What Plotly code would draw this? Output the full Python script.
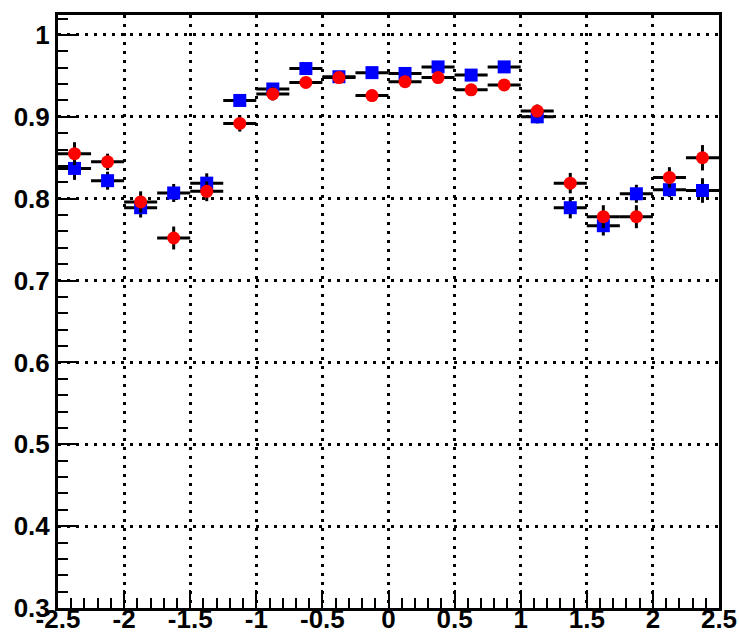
import plotly.graph_objects as go

# bin centres (eta), bin half-width
x_centers = [-2.375, -2.125, -1.875, -1.625, -1.375, -1.125, -0.875, -0.625, -0.375, -0.125,
             0.125, 0.375, 0.625, 0.875, 1.125, 1.375, 1.625, 1.875, 2.125, 2.375]
x_halfwidth = [0.125] * 20

blue_vals = [0.837, 0.822, 0.789, 0.807, 0.819, 0.920, 0.934, 0.959, 0.949, 0.954,
             0.953, 0.961, 0.951, 0.961, 0.900, 0.789, 0.767, 0.806, 0.811, 0.810]
blue_errs = [0.014, 0.011, 0.012, 0.011, 0.012, 0.007, 0.007, 0.006, 0.006, 0.006,
             0.006, 0.006, 0.006, 0.006, 0.008, 0.013, 0.012, 0.011, 0.009, 0.015]

red_vals = [0.855, 0.845, 0.796, 0.752, 0.809, 0.892, 0.928, 0.942, 0.948, 0.926,
            0.943, 0.948, 0.933, 0.939, 0.907, 0.819, 0.778, 0.778, 0.826, 0.850]
red_errs = [0.014, 0.010, 0.013, 0.014, 0.012, 0.010, 0.008, 0.006, 0.006, 0.007,
            0.006, 0.006, 0.006, 0.006, 0.008, 0.0125, 0.014, 0.014, 0.0125, 0.0155]

# tick labels
x_tickvals = [-2.5, -2.0, -1.5, -1.0, -0.5, 0.0, 0.5, 1.0, 1.5, 2.0, 2.5]
x_ticktext = ["-2.5", "-2", "-1.5", "-1", "-0.5", "0", "0.5", "1", "1.5", "2", "2.5"]
y_tickvals = [0.3, 0.4, 0.5, 0.6, 0.7, 0.8, 0.9, 1.0]
y_ticktext = ["0.3", "0.4", "0.5", "0.6", "0.7", "0.8", "0.9", "1"]

font_family = "Liberation Sans, Arial, Helvetica, sans-serif"

fig = go.Figure()


def add_series(vals, errs, color, symbol):
    fig.add_trace(go.Scatter(
        x=x_centers, y=vals, mode="markers",
        marker=dict(color=color, symbol=symbol, size=13, line=dict(width=0)),
        error_x=dict(type="data", array=x_halfwidth, color="black", thickness=3, width=0),
        error_y=dict(type="data", array=errs, color="black", thickness=3, width=0),
        showlegend=False, cliponaxis=False,
    ))


add_series(blue_vals, blue_errs, "#0000ff", "square")
add_series(red_vals, red_errs, "#ff0000", "circle")

axis_common = dict(
    showgrid=True, gridcolor="black", gridwidth=3, griddash="3px,6px",
    ticks="inside", tickcolor="black", tickwidth=2,
    showline=True, linecolor="black", linewidth=3, mirror=True,
    zeroline=False, automargin=False,
    tickfont=dict(family=font_family, size=26, color="black", weight="bold"),
)

fig.update_xaxes(
    range=[-2.5, 2.5], tickmode="array", tickvals=x_tickvals, ticktext=x_ticktext, ticklen=18,
    ticklabelstandoff=-14,
    minor=dict(dtick=0.1, tick0=-2.5, ticks="inside", ticklen=10, tickwidth=2, tickcolor="black", showgrid=False),
    **axis_common,
)
fig.update_yaxes(
    range=[0.3, 1.0244], tickmode="array", tickvals=y_tickvals, ticktext=y_ticktext, ticklen=18,
    minor=dict(dtick=0.02, tick0=0.3, ticks="inside", ticklen=10, tickwidth=2, tickcolor="black", showgrid=False),
    **axis_common,
)

fig.update_layout(
    width=739, height=637,
    margin=dict(l=58, r=20, t=15, b=29),
    plot_bgcolor="white", paper_bgcolor="white",
    font=dict(family=font_family),
)

fig.write_html(
    "out.html",
    config={"displayModeBar": False},
    post_script="document.body.style.margin='0';document.body.style.overflow='hidden';",
)
